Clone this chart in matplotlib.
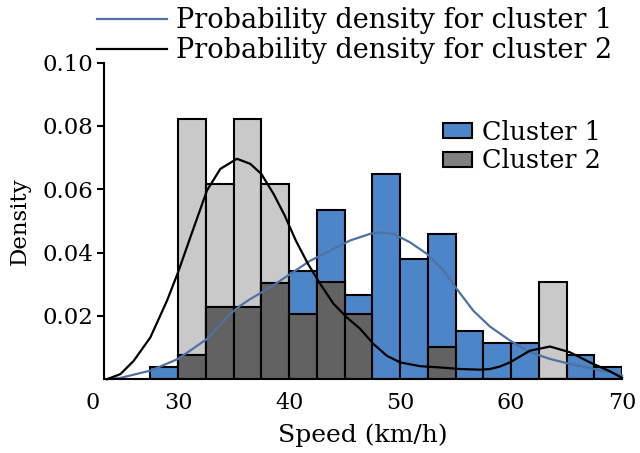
import matplotlib
matplotlib.use("Agg")
import matplotlib.pyplot as plt
import numpy as np
from matplotlib.patches import Patch

plt.rcParams["font.family"] = "DejaVu Serif"

# histogram bins (km/h), width 2.5
bin_edges = [27.5, 30, 32.5, 35, 37.5, 40, 42.5, 45, 47.5, 50,
             52.5, 55, 57.5, 60, 62.5, 65, 67.5, 70]
cluster1_density = [0.0038, 0.0076, 0.0229, 0.0229, 0.0305, 0.0343, 0.0533, 0.0267, 0.0648,
                    0.0381, 0.0457, 0.0152, 0.0114, 0.0114, 0.0, 0.0076, 0.0038]
cluster2_density = [0.0, 0.0821, 0.0615, 0.0821, 0.0615, 0.0205, 0.0308, 0.0205, 0.0,
                    0.0, 0.0103, 0.0, 0.0, 0.0, 0.0308, 0.0, 0.0]

# fitted density curves
pdf1_x = [23.6, 24.8, 27.5, 30.0, 32.6, 34.7, 35.6, 36.5, 38.3, 40.1, 41.9, 43.7, 45.5,
          47.3, 48.2, 49.4, 50.9, 52.4, 53.9, 55.1, 56.6, 58.1, 59.9, 61.7, 63.5,
          65.3, 67.1, 68.9, 70.0]
pdf1_y = [0.0, 0.0004, 0.0027, 0.0064, 0.0127, 0.0206, 0.0232, 0.0253, 0.0290, 0.0332,
          0.0374, 0.0406, 0.0438, 0.0459, 0.0464, 0.0459, 0.0432, 0.0396, 0.0343, 0.0285,
          0.0216, 0.0166, 0.0122, 0.0085, 0.0064, 0.0048, 0.0035, 0.0021, 0.0011]
pdf2_x = [23.6, 24.8, 26.0, 27.5, 29.0, 30.0, 31.1, 32.6, 33.8, 35.3, 36.5, 37.5, 38.6,
          39.6, 40.6, 41.7, 42.8, 44.0, 45.2, 46.4, 47.6, 48.8, 50.0, 51.8, 53.6, 55.4,
          57.2, 58.1, 59.0, 59.9, 61.7, 63.5, 65.3, 67.1, 68.9, 70.0]
pdf2_y = [0.0, 0.0016, 0.0058, 0.0132, 0.0248, 0.0338, 0.0448, 0.0596, 0.0664, 0.0696,
          0.0680, 0.0648, 0.0585, 0.0517, 0.0438, 0.0364, 0.0301, 0.0238, 0.0195, 0.0159,
          0.0111, 0.0074, 0.0053, 0.0041, 0.0037, 0.0032, 0.0030, 0.0032, 0.0040, 0.0053,
          0.0090, 0.0103, 0.0085, 0.0053, 0.0025, 0.0004]

BLUE = "#4d86c8"
LINE_BLUE = "#4f72a3"
LIGHT = "#c9c9c9"
DARK = "#626262"
MID = "#808080"

fig = plt.figure(figsize=(6.4, 4.53), dpi=100)
ax = fig.add_axes([0.163, 0.163, 0.809, 0.699])

left = np.array(bin_edges[:-1])
h1 = np.array(cluster1_density)
h2 = np.array(cluster2_density)
overlap = np.minimum(h1, h2)
bar_kw = dict(width=2.5, align="edge", edgecolor="black", linewidth=1.5)
ax.bar(left, h2, color=LIGHT, **bar_kw)
ax.bar(left, h1, color=BLUE, **bar_kw)
ax.bar(left, overlap, color=DARK, **bar_kw)

l1, = ax.plot(pdf1_x, pdf1_y, color=LINE_BLUE, lw=1.6, clip_on=False)
l2, = ax.plot(pdf2_x, pdf2_y, color="black", lw=1.6, clip_on=False)

ax.set_xlim(23.35, 70)
ax.set_ylim(0, 0.10)
ax.set_xticks([30, 40, 50, 60, 70])
ax.set_yticks([0.02, 0.04, 0.06, 0.08, 0.10])
ax.set_yticklabels(["0.02", "0.04", "0.06", "0.08", "0.10"])
ax.tick_params(axis="x", length=0, pad=9, labelsize=16)
ax.tick_params(axis="y", length=5, width=1.5, pad=3, labelsize=16.5)
ax.annotate("0", xy=(22.3, 0), xycoords=("data", "axes fraction"),
            xytext=(0, -9), textcoords="offset points",
            ha="center", va="top", fontsize=16, annotation_clip=False)

for side in ("top", "right"):
    ax.spines[side].set_visible(False)
for side in ("left", "bottom"):
    ax.spines[side].set_linewidth(1.5)

ax.set_xlabel("Speed (km/h)", fontsize=18, labelpad=7)
ax.set_ylabel("Density", fontsize=16.5, labelpad=8)

line_leg = fig.legend([l1, l2], ["Probability density for cluster 1",
                                 "Probability density for cluster 2"],
                      loc="upper left", bbox_to_anchor=(97 / 640, 1 - 7 / 453),
                      frameon=False, fontsize=19.5, handlelength=2.6,
                      handletextpad=0.3, labelspacing=0.12, borderpad=0,
                      borderaxespad=0)
patches = [Patch(facecolor=BLUE, edgecolor="black", linewidth=1.5),
           Patch(facecolor=MID, edgecolor="black", linewidth=1.5)]
ax.legend(patches, ["Cluster 1", "Cluster 2"], loc="upper left",
          bbox_to_anchor=(0.655, 0.82), frameon=False, fontsize=18.4,
          handlelength=1.1, handleheight=0.55, handletextpad=0.4,
          labelspacing=0.15, borderpad=0, borderaxespad=0)

fig.savefig("out.png", dpi=100)
